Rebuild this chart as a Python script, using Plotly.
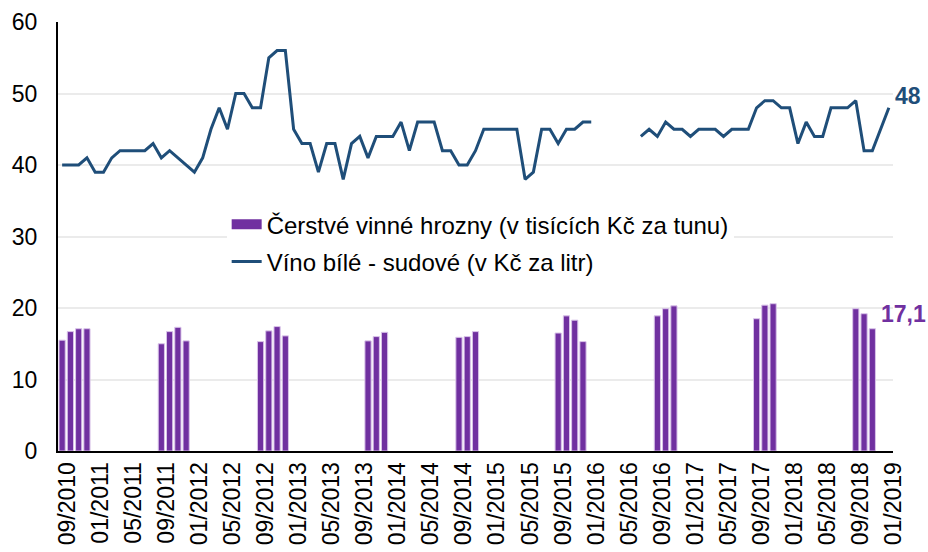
import plotly.graph_objects as go

# Monthly categories 09/2010 .. 01/2019
months = []
y, m = 2010, 9
while (y, m) <= (2019, 1):
    months.append(f"{m:02d}/{y}")
    m += 1
    if m > 12:
        m = 1
        y += 1

tick_labels = months[::4]

# Fresh wine grapes (thousand CZK per tonne)
grape_months = ["09/2010", "10/2010", "11/2010", "12/2010",
                "09/2011", "10/2011", "11/2011", "12/2011",
                "09/2012", "10/2012", "11/2012", "12/2012",
                "10/2013", "11/2013", "12/2013",
                "09/2014", "10/2014", "11/2014",
                "09/2015", "10/2015", "11/2015", "12/2015",
                "09/2016", "10/2016", "11/2016",
                "09/2017", "10/2017", "11/2017",
                "09/2018", "10/2018", "11/2018"]
grape_values = [15.5, 16.7, 17.1, 17.1,
                15.0, 16.7, 17.3, 15.4,
                15.3, 16.8, 17.4, 16.1,
                15.4, 16.0, 16.6,
                15.9, 16.0, 16.7,
                16.5, 18.9, 18.3, 15.3,
                18.9, 19.9, 20.3,
                18.5, 20.4, 20.6,
                19.9, 19.2, 17.1]

# White bulk wine (CZK per litre), monthly, None = missing
wine_values = [40, 40, 40, 41, 39, 39, 41, 42, 42, 42, 42, 43, 41, 42, 41, 40, 39, 41, 45, 48,
               45, 50, 50, 48, 48, 55, 56, 56, 45, 43, 43, 39, 43, 43, 38, 43, 44, 41, 44, 44,
               44, 46, 42, 46, 46, 46, 42, 42, 40, 40, 42, 45, 45, 45, 45, 45, 38, 39, 45, 45,
               43, 45, 45, 46, 46, None, None, None, None, None, 44, 45, 44, 46, 45, 45, 44, 45, 45, 45,
               44, 45, 45, 45, 48, 49, 49, 48, 48, 43, 46, 44, 44, 48, 48, 48, 49, 42, 42, 45,
               48]

purple = "#7030A0"
blue = "#1F4E79"
FONT = "Liberation Sans, Arial"
grape_name = "Čerstvé vinné hrozny (v tisících Kč za tunu)"
wine_name = "Víno bílé - sudové (v Kč za litr)"

fig = go.Figure()
fig.add_trace(go.Bar(
    x=grape_months, y=grape_values, name=grape_name,
    marker=dict(color=purple, line=dict(color="#D9C3E9", width=1)),
    width=0.75, showlegend=False,
))
fig.add_trace(go.Scatter(
    x=months, y=wine_values, mode="lines", name=wine_name,
    line=dict(color=blue, width=3), connectgaps=False, showlegend=False,
))
# legend-only entries (wide rectangle swatch like the original)
fig.add_trace(go.Scatter(x=[None], y=[None], mode="lines", name=grape_name,
                         line=dict(color=purple, width=12), legendgroup="a"))
fig.add_trace(go.Scatter(x=[None], y=[None], mode="lines", name=wine_name,
                         line=dict(color=blue, width=3), legendgroup="b"))

fig.add_annotation(x=months[-1], y=wine_values[-1], text="<b>48</b>", showarrow=False,
                   xanchor="left", yanchor="middle", xshift=4, yshift=12,
                   font=dict(size=23, color=blue, family=FONT))
fig.add_annotation(x=grape_months[-1], y=grape_values[-1], text="<b>17,1</b>", showarrow=False,
                   xanchor="left", yanchor="middle", xshift=7, yshift=15,
                   font=dict(size=23, color=purple, family=FONT))

fig.update_layout(
    width=928, height=552,
    margin=dict(l=58, r=35, t=22, b=101),
    paper_bgcolor="white", plot_bgcolor="white",
    font=dict(family=FONT, size=23, color="black"),
    showlegend=True,
    legend=dict(x=0.202, y=0.58, xanchor="left", yanchor="top",
                bgcolor="white", font=dict(size=24),
                tracegroupgap=3, traceorder="grouped", itemwidth=30),
    bargap=0.25,
)
fig.update_xaxes(
    type="category", categoryorder="array", categoryarray=months,
    range=[-0.5, len(months) - 0.5], automargin=False,
    tickmode="array", tickvals=tick_labels, ticktext=tick_labels,
    tickangle=-90, showgrid=False, showline=True, linecolor="black", linewidth=2,
    ticks="", tickfont=dict(size=23), ticklabelshift=5,
)
fig.update_yaxes(
    range=[0, 60], dtick=10, showgrid=True, gridcolor="#EBEBEB", gridwidth=1.5,
    showline=True, linecolor="black", linewidth=2, ticks="", zeroline=False,
    tickfont=dict(size=23), automargin=False, ticklabelstandoff=14,
)

fig.write_html("out.html", config={"displayModeBar": False},
               post_script="document.body.style.margin='0';")
